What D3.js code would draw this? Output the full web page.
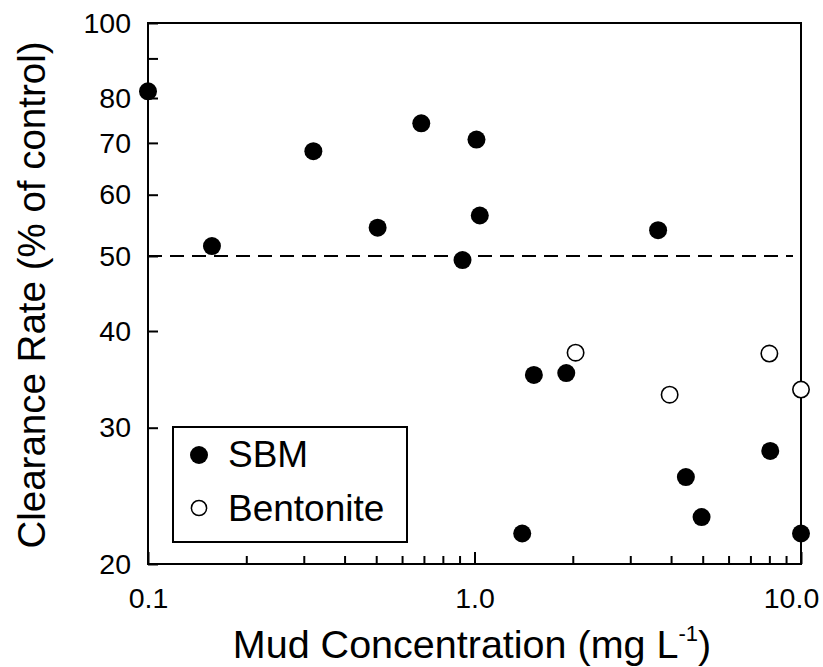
<!DOCTYPE html>
<html>
<head>
<meta charset="utf-8">
<script src="https://cdn.jsdelivr.net/npm/d3@7/dist/d3.min.js"></script>
<style>
  html, body { margin: 0; padding: 0; background: #fff; }
  svg { display: block; font-family: "Liberation Sans", Arial, Helvetica, sans-serif; }
</style>
</head>
<body>
<svg id="chart" width="823" height="667"></svg>
<script>
// Mud concentration (mg/L) and clearance rate (% of control)
const sbmConc = [0.1, 0.157, 0.321, 0.505, 0.687, 1.014, 1.038, 0.919, 3.65, 1.52, 1.91, 1.40, 4.44, 4.96, 8.05, 10.0];
const sbmRate = [81.6, 51.5, 68.3, 54.4, 74.2, 70.7, 56.4, 49.4, 54.0, 35.1, 35.3, 21.9, 25.9, 23.0, 28.0, 21.9];
const bentConc = [2.04, 3.96, 8.0, 10.0];
const bentRate = [37.5, 33.1, 37.4, 33.6];

const yTicks = [20, 30, 40, 50, 60, 70, 80, 90, 100];
const yTickLabels = ["20", "30", "40", "50", "60", "70", "80", "", "100"];
const xMajor = [0.1, 1, 10];
const xMajorLabels = ["0.1", "1.0", "10.0"];
const xMinor = [0.2, 0.3, 0.4, 0.5, 0.6, 0.7, 0.8, 0.9, 2, 3, 4, 5, 6, 7, 8, 9];
const refLevel = 50;
const legendItems = ["SBM", "Bentonite"];

const svg = d3.select("#chart");
const plotL = 148, plotR = 801, plotT = 23, plotB = 564;

const x = d3.scaleLog().domain([0.1, 10]).range([plotL, plotR]);
const y = d3.scaleLog().domain([20, 100]).range([plotB, plotT]);

// reference line at 50 %
svg.append("line")
  .attr("x1", plotL).attr("x2", 793)
  .attr("y1", y(refLevel)).attr("y2", y(refLevel))
  .attr("stroke", "#000").attr("stroke-width", 2)
  .attr("stroke-dasharray", "14,8");

// frame
svg.append("rect")
  .attr("x", plotL).attr("y", plotT)
  .attr("width", plotR - plotL).attr("height", plotB - plotT)
  .attr("fill", "none").attr("stroke", "#000").attr("stroke-width", 2);

// y axis (ticks pointing inward)
const yAxis = d3.axisLeft(y)
  .tickValues(yTicks)
  .tickSizeInner(-10).tickSizeOuter(0)
  .tickPadding(17)
  .tickFormat((d, i) => yTickLabels[i]);
const gy = svg.append("g").attr("transform", `translate(${plotL},0)`).call(yAxis);
gy.select(".domain").remove();
gy.selectAll(".tick line").attr("stroke", "#000").attr("stroke-width", 2);
gy.selectAll(".tick text").attr("font-size", 28.5).attr("fill", "#000")
  .attr("font-family", "Liberation Sans, Arial, sans-serif");

// x axis: major and minor ticks inward
const xAxisMajor = d3.axisBottom(x)
  .tickValues(xMajor)
  .tickSizeInner(-12).tickSizeOuter(0)
  .tickPadding(24)
  .tickFormat((d, i) => xMajorLabels[i]);
const gx = svg.append("g").attr("transform", `translate(0,${plotB})`).call(xAxisMajor);
gx.select(".domain").remove();
gx.selectAll(".tick line").attr("stroke", "#000").attr("stroke-width", 2);
gx.selectAll(".tick text").attr("font-size", 28.5).attr("fill", "#000")
  .attr("font-family", "Liberation Sans, Arial, sans-serif")
  .attr("dx", (d, i) => i === xMajor.length - 1 ? -10 : 0);

const xAxisMinor = d3.axisBottom(x)
  .tickValues(xMinor)
  .tickSizeInner(-8).tickSizeOuter(0)
  .tickFormat("");
const gxm = svg.append("g").attr("transform", `translate(0,${plotB})`).call(xAxisMinor);
gxm.select(".domain").remove();
gxm.selectAll(".tick line").attr("stroke", "#000").attr("stroke-width", 2);

// data points
svg.append("g").selectAll("circle")
  .data(sbmConc.map((c, i) => [c, sbmRate[i]]))
  .join("circle")
  .attr("cx", d => x(d[0])).attr("cy", d => y(d[1]))
  .attr("r", 9).attr("fill", "#000");

svg.append("g").selectAll("circle")
  .data(bentConc.map((c, i) => [c, bentRate[i]]))
  .join("circle")
  .attr("cx", d => x(d[0])).attr("cy", d => y(d[1]))
  .attr("r", 8.2).attr("fill", "#fff").attr("stroke", "#000").attr("stroke-width", 1.6);

// legend
const lg = svg.append("g");
lg.append("rect")
  .attr("x", 173).attr("y", 427).attr("width", 234).attr("height", 115)
  .attr("fill", "#fff").attr("stroke", "#000").attr("stroke-width", 2);
lg.append("circle").attr("cx", 199).attr("cy", 455).attr("r", 9).attr("fill", "#000");
lg.append("circle").attr("cx", 199).attr("cy", 508).attr("r", 7.6)
  .attr("fill", "#fff").attr("stroke", "#000").attr("stroke-width", 1.5);
lg.selectAll("text").data(legendItems).join("text")
  .attr("x", 228).attr("y", (d, i) => i === 0 ? 467 : 521)
  .attr("font-size", 37).attr("fill", "#000")
  .text(d => d);

// axis titles
const xt = svg.append("text")
  .attr("x", 472).attr("y", 658)
  .attr("text-anchor", "middle").attr("font-size", 39.5).attr("fill", "#000");
xt.append("tspan").text("Mud Concentration (mg L");
xt.append("tspan").attr("font-size", 22).attr("dy", -17).text("-1");
xt.append("tspan").attr("dy", 17).text(")");

svg.append("text")
  .attr("transform", "translate(45,295) rotate(-90)")
  .attr("text-anchor", "middle").attr("font-size", 38.5).attr("fill", "#000")
  .text("Clearance Rate (% of control)");
</script>
</body>
</html>
